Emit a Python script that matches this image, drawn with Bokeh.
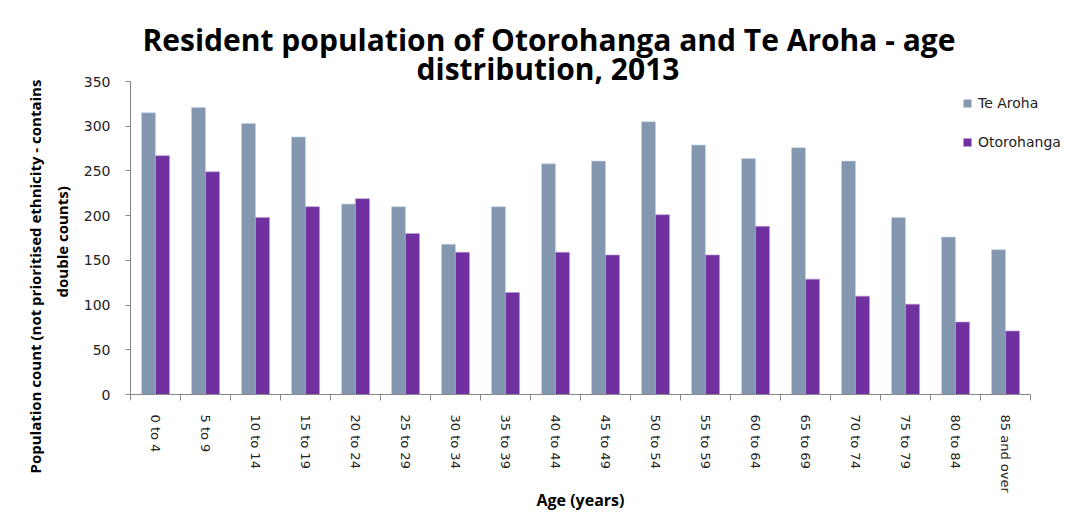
from bokeh.plotting import figure
from bokeh.models import ColumnDataSource, FixedTicker, Legend, LegendItem, Range1d, Title
from bokeh.transform import dodge
from bokeh.embed import file_html
from bokeh.resources import INLINE

categories = ["0 to 4", "5 to 9", "10 to 14", "15 to 19", "20 to 24", "25 to 29",
              "30 to 34", "35 to 39", "40 to 44", "45 to 49", "50 to 54", "55 to 59",
              "60 to 64", "65 to 69", "70 to 74", "75 to 79", "80 to 84", "85 and over"]
te_aroha = [315, 321, 303, 288, 213, 210, 168, 210, 258, 261, 305, 279, 264, 276, 261, 198, 176, 162]
otorohanga = [267, 249, 198, 210, 219, 180, 159, 114, 159, 156, 201, 156, 188, 129, 110, 101, 81, 71]
y_ticks = [0, 50, 100, 150, 200, 250, 300, 350]

n = len(categories)
centers = [i + 0.5 for i in range(n)]
bounds = [float(i) for i in range(n + 1)]

src = ColumnDataSource(dict(x=centers, cat=categories, ta=te_aroha, ot=otorohanga))

W, H = 1080, 522
FL, FT, FB = 130, 81, 394
p = figure(width=W, height=H, output_backend="svg", toolbar_location=None,
           x_range=Range1d(0, (W - FL) / 50.0), y_range=Range1d(0, 350),
           min_border_left=FL, min_border_right=0, min_border_top=FT,
           min_border_bottom=H - FB)

# title: two centred lines
t2 = Title(text="distribution, 2013", align="left", offset=286,
           text_font="Open Sans", text_font_style="bold", text_font_size="30px",
           text_color="black", standoff=-15)
t1 = Title(text="Resident population of Otorohanga and Te Aroha - age", align="left",
           offset=12, text_font="Open Sans", text_font_style="bold",
           text_font_size="30px", text_color="black", standoff=-12)
p.add_layout(t2, "above")
p.add_layout(t1, "above")

bw = 0.28
r1 = p.vbar(x=dodge("x", -bw / 2, range=p.x_range), top="ta", width=bw, source=src,
            fill_color="#8497B0", line_color="#C9D2DF", line_width=0.6)
r2 = p.vbar(x=dodge("x", bw / 2, range=p.x_range), top="ot", width=bw, source=src,
            fill_color="#7030A0", line_color="#B99BD0", line_width=0.6)

legend = Legend(items=[LegendItem(label="Te Aroha", renderers=[r1]),
                       LegendItem(label="Otorohanga", renderers=[r2])],
                location=(832, 244), orientation="vertical")
legend.glyph_width = 10
legend.glyph_height = 10
legend.label_standoff = 6
legend.spacing = 23
legend.padding = 0
legend.margin = 0
legend.border_line_color = None
legend.background_fill_alpha = 0
legend.label_text_font = "DejaVu Sans"
legend.label_text_font_size = "14px"
legend.label_text_color = "#222222"
p.add_layout(legend, "center")

p.xgrid.visible = False
p.ygrid.visible = False
p.outline_line_color = None

xa = p.xaxis[0]
xa.bounds = (0, n)
xa.ticker = FixedTicker(ticks=centers, minor_ticks=bounds)
xa.major_label_overrides = {c: lab for c, lab in zip(centers, categories)}
xa.major_label_orientation = "vertical"
xa.major_tick_in = 0
xa.major_tick_out = 0
xa.minor_tick_in = 0
xa.minor_tick_out = 6
xa.minor_tick_line_color = "#868686"
xa.axis_line_color = "#868686"
xa.major_label_text_font = "DejaVu Sans"
xa.major_label_text_font_size = "13px"
xa.major_label_text_color = "#222222"
xa.major_label_standoff = 14

tx = Title(text="Age (years)", align="left", offset=406, text_font="Open Sans",
           text_font_style="bold", text_font_size="16px", text_color="black", standoff=-18)
p.add_layout(tx, "below")

ya = p.yaxis[0]
ya.ticker = FixedTicker(ticks=y_ticks, minor_ticks=[])
ya.major_tick_in = 0
ya.major_tick_out = 5
ya.major_tick_line_color = "#868686"
ya.axis_line_color = "#868686"
ya.major_label_text_font = "DejaVu Sans"
ya.major_label_text_font_size = "14px"
ya.major_label_text_color = "#222222"
ya.major_label_standoff = 15

ty2 = Title(text="double counts)", align="left", offset=97, text_font="Open Sans",
            text_font_style="bold", text_font_size="15px", text_color="black", standoff=18)
ty1 = Title(text="Population count (not prioritised  ethnicity - contains", align="left",
            offset=-79, text_font="Open Sans", text_font_style="bold",
            text_font_size="15px", text_color="black", standoff=-8)
p.add_layout(ty2, "left")
p.add_layout(ty1, "left")

open("out.html", "w").write(file_html(p, INLINE))
